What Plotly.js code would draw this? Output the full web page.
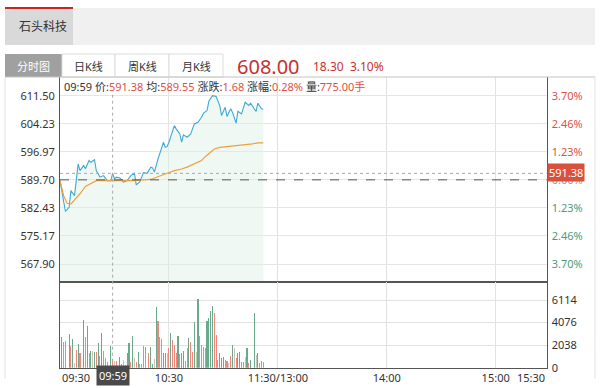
<!DOCTYPE html>
<html><head><meta charset="utf-8">
<script src="https://cdn.plot.ly/plotly-3.0.1.min.js"></script>
<style>body{margin:0;padding:0;background:#fff;} #chart{width:600px;height:388px;}</style>
</head><body><div id="chart"></div>
<script>
// ---------- data ----------
const stockName = '石头科技';
const tabLabels = ['分时图', '日K线', '周K线', '月K线'];
const prevClose = 589.70;
const lastPrice = '608.00';
const lastChange = '18.30';
const lastPct = '3.10%';

const priceTicks = [567.90, 575.17, 582.43, 589.70, 596.97, 604.23, 611.50];
const priceTickText = ['567.90', '575.17', '582.43', '589.70', '596.97', '604.23', '611.50'];
const pctTickText = ['3.70%', '2.46%', '1.23%', '0.00%', '1.23%', '2.46%', '3.70%'];
const pctTickSign = ['d', 'd', 'd', 'n', 'u', 'u', 'u'];
const volTicks = [0, 2038, 4076, 6114];
const volTickText = ['0', '2038', '4076', '6114'];
const timeTicks = [60, 120, 180, 240];          // minutes after 09:30 (trading minutes)
const timeTickText = ['10:30', '11:30/13:00', '14:00', '15:00'];
const timeStartLabel = '09:30';
const timeEndLabel = '15:30';

// cursor (crosshair) info
const cursorMinute = 29;
const cursorTime = '09:59';
const cursorPrice = 591.38;
const cursorAvg = '589.55';
const cursorChg = '1.68';
const cursorPct = '0.28%';
const cursorVol = '775.00';

// price line (minute, price)
const priceMin = [0,3,5,6,8,10,11,13,14,16,17,19,20,22,24,26,28,29,30,31,33,35,37,39,41,42,44,45,46,48,50,51,52,54,57,58,59,60,63,64,66,67,68,70,72,74,76,78,79,81,82,84,86,88,89,91,92,94,95,97,98,100,101,102,104,105,107,108,109,111,112];
const priceVal = [589.50,581.50,582.60,586.90,585.60,593.85,592.10,593.40,592.55,594.70,594.25,594.90,592.10,590.40,590.80,589.50,589.50,591.38,589.95,590.40,590.20,589.10,589.50,590.80,591.40,588.40,589.25,590.40,591.60,591.40,593.00,592.80,591.70,595.15,599.45,598.15,598.30,599.45,603.75,602.90,601.60,599.45,601.35,600.75,601.60,604.20,604.60,605.90,606.95,607.65,610.05,611.50,611.30,608.95,606.35,608.50,606.10,608.10,607.20,604.40,607.45,606.80,608.10,609.80,608.95,609.55,608.10,607.45,609.55,608.10,608.00];

// average price line
const avgMin = [0,2,4,6,8,11,14,17,20,26,31,41,50,53,56,59,63,67,70,74,78,80,85,88,93,96,102,106,109,112];
const avgVal = [589.50,585.60,583.60,583.40,584.50,586.10,588.00,588.80,589.50,589.50,589.55,589.50,589.80,590.40,591.00,591.40,592.10,592.50,593.00,593.80,594.70,595.70,597.70,598.10,598.30,598.60,598.80,599.00,599.30,599.30];

// volume bars (minute, volume, direction u=up d=down n=flat)
const volMin = [1,2,3,5,6,7,8,9,10,11,13,14,15,16,17,18,19,20,21,22,23,24,25,26,28,29,30,31,33,34,35,36,37,38,39,40,41,42,43,44,45,46,47,49,50,51,52,53,54,55,56,
                57,58,59,60,61,62,63,64,65,66,67,68,69,70,71,72,73,74,75,76,77,78,79,80,81,82,83,84,85,86,87,88,89,90,91,92,93,94,95,96,97,98,99,100,101,102,103,104,105,107,108,109,110,111,112];
const volVal = [2800,2350,2440,3010,1960,2590,450,1600,2140,1350,4300,2740,3760,1350,1540,1540,1440,1410,2260,1050,3160,1540,840,540,1960,775,630,630,990,330,690,240,1290,2260,540,2860,840,540,1440,330,330,1960,1900,1290,1840,330,750,5450,4240,2800,2560,
                1350,1350,1350,1750,3100,2500,2050,1290,2860,1230,1350,1500,630,1750,2650,2350,1440,4150,1440,6170,2860,2050,1900,1750,4240,4450,5150,5570,4900,2950,690,1290,840,990,690,630,390,1050,2050,1750,840,1350,1440,540,540,990,1750,390,690,4970,1140,1350,390,630,540];
const volDir = ['d','u','u','d','u','d','n','u','d','u','d','u','d','u','d','n','d','u','d','u','d','u','u','u','d','u','n','u','d','u','n','d','d','d','u','d','n','u','d','u','u','u','u','u','d','d','n','d','u','u','u',
                'd','d','n','u','d','u','u','u','d','u','d','d','u','u','d','u','u','d','n','d','u','u','u','u','d','d','d','d','u','u','u','d','d','d','u','u','n','u','d','n','u','d','d','u','u','n','d','u','d','d','n','d','u','u','u'];

// ---------- styling helpers ----------
const W = 600, H = 388;
const X = p => p / W;
const Y = p => 1 - p / H;
const FONT = '"Noto Sans", "Noto Sans CJK SC", sans-serif';
const RED = '#e0503f', GREEN = '#4f9a78', TXT = '#333';
const dirColor = {u: '#f0867c', d: '#6aa98c', n: '#cdc3b4'};

const plotL = 60, plotR = 546.5, priceTop = 77, priceBot = 282, volBot = 367.7;

const traces = [
  {x: priceMin, y: priceVal, type: 'scatter', mode: 'lines', xaxis: 'x', yaxis: 'y',
   line: {color: '#3fa9d4', width: 1.1}, fill: 'tozeroy', fillcolor: 'rgba(222,240,230,0.45)', hoverinfo: 'skip'},
  {x: avgMin, y: avgVal, type: 'scatter', mode: 'lines', xaxis: 'x', yaxis: 'y',
   line: {color: '#f0a03a', width: 1.2}, hoverinfo: 'skip'},
  {x: volMin, y: volVal, type: 'bar', xaxis: 'x2', yaxis: 'y2', width: 0.6,
   marker: {color: volDir.map(d => dirColor[d]), line: {width: 0}}, hoverinfo: 'skip'},
  // invisible trace to carry the right-hand percent axis
  {x: [0], y: [prevClose], type: 'scatter', mode: 'markers', xaxis: 'x', yaxis: 'y3',
   marker: {opacity: 0}, hoverinfo: 'skip'}
];

const xdom = [X(plotL), X(plotR)];
const priceRange = [563.24, 616.34];

const layout = {
  width: W, height: H,
  margin: {l: 0, r: 0, t: 0, b: 0},
  paper_bgcolor: '#fff', plot_bgcolor: 'rgba(0,0,0,0)',
  showlegend: false,
  font: {family: FONT, size: 11, color: TXT},
  bargap: 0,
  xaxis: {domain: xdom, anchor: 'y', range: [0, 268], tickvals: timeTicks, showticklabels: false,
          showgrid: true, gridcolor: '#e2e2e2', zeroline: false, ticks: '',
          showline: true, linecolor: '#555', linewidth: 1},
  yaxis: {domain: [Y(priceBot), Y(priceTop)], anchor: 'x', range: priceRange,
          tickvals: priceTicks, ticktext: priceTickText, showgrid: true, gridcolor: '#e6e6e6',
          zeroline: false, ticks: '', showline: true, linecolor: '#555', linewidth: 1,
          tickfont: {size: 11, color: TXT}, ticklabelstandoff: 2},
  yaxis3: {overlaying: 'y', side: 'right', anchor: 'x', range: priceRange,
           tickvals: priceTicks,
           ticktext: pctTickText.map((t, i) => `<span style="color:${pctTickSign[i] === 'u' ? RED : (pctTickSign[i] === 'd' ? GREEN : '#999')}">${t}</span>`),
           showgrid: false, zeroline: false, ticks: '', showline: true, linecolor: '#555', linewidth: 1,
           tickfont: {size: 11}, ticklabelstandoff: 2},
  xaxis2: {domain: xdom, anchor: 'y2', range: [0, 268], tickvals: timeTicks, ticktext: timeTickText,
           showgrid: true, gridcolor: '#e2e2e2', zeroline: false, ticks: '', showline: true, mirror: true,
           linecolor: '#555', linewidth: 1, tickfont: {size: 11, color: TXT}},
  yaxis2: {domain: [Y(volBot), Y(priceBot)], anchor: 'x2', side: 'right', range: [0, 7740],
           tickvals: volTicks, ticktext: volTickText, showgrid: true, gridcolor: '#e2e2e2',
           zeroline: false, ticks: '', showline: true, mirror: true, linecolor: '#555', linewidth: 1,
           tickfont: {size: 11, color: TXT}, ticklabelstandoff: 2},
  shapes: [
    // header bar
    {type: 'rect', xref: 'paper', yref: 'paper', x0: X(5), x1: X(595), y0: Y(45), y1: Y(8), fillcolor: '#f0f0f0', line: {width: 0}, layer: 'below'},
    {type: 'rect', xref: 'paper', yref: 'paper', x0: X(5), x1: X(73), y0: Y(45), y1: Y(8), fillcolor: '#d9d9d9', line: {width: 0}, layer: 'below'},
    {type: 'line', xref: 'paper', yref: 'paper', x0: X(5), x1: X(73), y0: Y(8), y1: Y(8), line: {color: '#c8281e', width: 2}},
    // tab row
    {type: 'rect', xref: 'paper', yref: 'paper', x0: X(5), x1: X(62), y0: Y(77), y1: Y(54), fillcolor: '#a0a0a0', line: {width: 0}, layer: 'below'},
    {type: 'rect', xref: 'paper', yref: 'paper', x0: X(62), x1: X(115), y0: Y(77), y1: Y(54), fillcolor: '#fff', line: {color: '#dcdcdc', width: 1}, layer: 'below'},
    {type: 'rect', xref: 'paper', yref: 'paper', x0: X(115), x1: X(169), y0: Y(77), y1: Y(54), fillcolor: '#fff', line: {color: '#dcdcdc', width: 1}, layer: 'below'},
    {type: 'rect', xref: 'paper', yref: 'paper', x0: X(169), x1: X(223), y0: Y(77), y1: Y(54), fillcolor: '#fff', line: {color: '#dcdcdc', width: 1}, layer: 'below'},
    // outer frame
    {type: 'line', xref: 'paper', yref: 'paper', x0: X(5), x1: X(595), y0: Y(77), y1: Y(77), line: {color: '#c4c4c4', width: 1}},
    {type: 'line', xref: 'paper', yref: 'paper', x0: X(5), x1: X(5), y0: Y(77), y1: Y(379), line: {color: '#e2e2e2', width: 1}},
    {type: 'line', xref: 'paper', yref: 'paper', x0: X(595), x1: X(595), y0: Y(77), y1: Y(379), line: {color: '#e2e2e2', width: 1}},
    // previous close dashed line
    {type: 'line', xref: 'paper', yref: 'y', x0: X(plotL), x1: X(plotR), y0: prevClose, y1: prevClose, line: {color: '#555', width: 1, dash: 'dash'}},
    // crosshair
    {type: 'line', xref: 'paper', yref: 'y', x0: X(plotL), x1: X(plotR), y0: cursorPrice, y1: cursorPrice, line: {color: '#aaa', width: 1, dash: 'dot'}},
    {type: 'line', xref: 'x', yref: 'paper', x0: cursorMinute, x1: cursorMinute, y0: Y(volBot), y1: Y(94), line: {color: '#aaa', width: 1, dash: 'dot'}}
  ],
  annotations: [
    {xref: 'paper', yref: 'paper', x: X(17), y: Y(27), xanchor: 'left', yanchor: 'middle', showarrow: false,
     text: stockName, font: {size: 12, color: TXT, family: FONT}},
    {xref: 'paper', yref: 'paper', x: X(33.5), y: Y(66), xanchor: 'center', yanchor: 'middle', showarrow: false,
     text: tabLabels[0], font: {size: 11, color: '#fff'}},
    {xref: 'paper', yref: 'paper', x: X(88.5), y: Y(66), xanchor: 'center', yanchor: 'middle', showarrow: false,
     text: tabLabels[1], font: {size: 11, color: TXT}},
    {xref: 'paper', yref: 'paper', x: X(142), y: Y(66), xanchor: 'center', yanchor: 'middle', showarrow: false,
     text: tabLabels[2], font: {size: 11, color: TXT}},
    {xref: 'paper', yref: 'paper', x: X(196), y: Y(66), xanchor: 'center', yanchor: 'middle', showarrow: false,
     text: tabLabels[3], font: {size: 11, color: TXT}},
    {xref: 'paper', yref: 'paper', x: X(235), y: Y(66), xanchor: 'left', yanchor: 'middle', showarrow: false,
     text: lastPrice, font: {size: 20, color: '#c9302c'}},
    {xref: 'paper', yref: 'paper', x: X(311), y: Y(66), xanchor: 'left', yanchor: 'middle', showarrow: false,
     text: lastChange + '  ' + lastPct, font: {size: 12, color: '#c9302c'}},
    {xref: 'paper', yref: 'paper', x: X(62), y: Y(87), xanchor: 'left', yanchor: 'middle', showarrow: false,
     text: `${cursorTime} 价:<span style="color:${RED}">${cursorPrice.toFixed(2)}</span> 均:<span style="color:${RED}">${cursorAvg}</span> 涨跌:<span style="color:${RED}">${cursorChg}</span> 涨幅:<span style="color:${RED}">${cursorPct}</span> 量:<span style="color:${RED}">${cursorVol}手</span>`,
     font: {size: 11, color: TXT}},
    {xref: 'paper', yref: 'y', x: X(547), y: cursorPrice, xanchor: 'left', yanchor: 'middle', yshift: 1, showarrow: false,
     text: cursorPrice.toFixed(2), bgcolor: '#d9513c', borderpad: 1, font: {size: 11, color: '#fff'}},
    {xref: 'paper', yref: 'paper', x: X(plotL), y: Y(377), xanchor: 'left', yanchor: 'middle', showarrow: false,
     text: timeStartLabel, font: {size: 11, color: TXT}},
    {xref: 'paper', yref: 'paper', x: X(plotR), y: Y(377), xanchor: 'right', yanchor: 'middle', showarrow: false,
     text: timeEndLabel, font: {size: 11, color: TXT}},
    {xref: 'x2', yref: 'paper', x: cursorMinute, y: Y(375.5), xanchor: 'center', yanchor: 'middle', showarrow: false,
     text: cursorTime, bgcolor: '#4a4a4a', borderpad: 2, font: {size: 11, color: '#fff'}}
  ]
};

Plotly.newPlot('chart', traces, layout, {staticPlot: true, displayModeBar: false});
</script>
</body></html>
